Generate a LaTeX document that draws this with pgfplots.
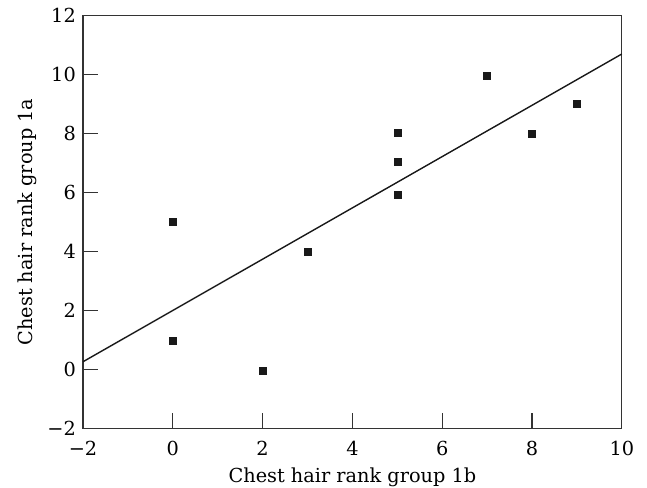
\documentclass[border=0pt]{standalone}
\usepackage{fontspec}
\setmainfont{DejaVu Serif}
\usepackage{pgfplots}
\pgfplotsset{compat=1.18}
\begin{document}
\fontsize{19.3}{23}\selectfont
\begin{tikzpicture}
\path[use as bounding box] (-83pt,-58.7pt) rectangle (563.9pt,428.3pt);
\begin{axis}[
  at={(0,0)}, anchor=south west,
  scale only axis,
  width=538.7pt, height=412.6pt,
  xmin=-2, xmax=10, ymin=-2, ymax=12,
  xtick={-2,0,2,4,6,8,10},
  xticklabels={−2,0,2,4,6,8,10},
  ytick={-2,0,2,4,6,8,10,12},
  yticklabels={−2,0,2,4,6,8,10,12},
  tick align=inside,
  xtick pos=bottom, ytick pos=left,
  major tick length=15pt,
  axis line style={line width=1.2pt, color=black!80},
  every tick/.style={line width=1.2pt, color=black!80},
  xticklabel style={anchor=base, inner sep=0pt, yshift=-26.7pt},
  yticklabel style={anchor=east, inner sep=0pt, xshift=-7pt},
  xlabel={Chest hair rank group 1b},
  ylabel={Chest hair rank group 1a},
  xlabel style={at={(axis description cs:0.5,0)}, anchor=base, inner sep=0pt, yshift=-54pt},
  ylabel style={inner sep=0pt},
  ylabel shift=10pt,
  clip=false,
]
\addplot[only marks, mark=square*, mark size=3.5pt, color=black!90] coordinates {
  (0,5) (0,0.97) (2,-0.03) (3,3.98) (5,8.02) (5,7.03) (5,5.92) (7,9.95) (8,8.0) (9,9.0)
};
\addplot[no marks, line width=1.4pt, color=black!90] coordinates {
  (-2,0.26) (10,10.7)
};
\end{axis}
\end{tikzpicture}
\end{document}
